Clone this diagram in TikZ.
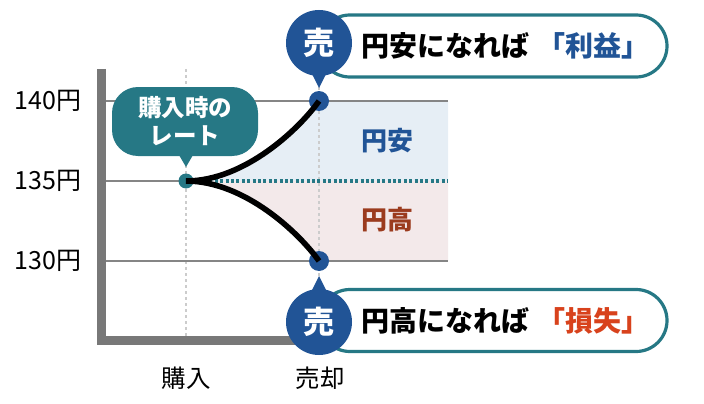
\documentclass[tikz,border=0pt]{standalone}
\usepackage{fontspec}
\setmainfont{Noto Sans CJK JP}
\definecolor{tealc}{HTML}{267885}
\definecolor{bluec}{HTML}{215496}
\definecolor{redc}{HTML}{D8421C}
\definecolor{brownc}{HTML}{9B3B1E}
\definecolor{blueshade}{HTML}{E6EEF5}
\definecolor{pinkshade}{HTML}{F3E9EA}
\definecolor{axisc}{HTML}{787878}
\definecolor{gridc}{HTML}{858585}
\definecolor{guidec}{HTML}{CCCCCC}
\begin{document}
\begin{tikzpicture}[x=1pt,y=-1pt,
  gridline/.style={gridc,line width=2.2pt},
  guide/.style={guidec,line width=1.2pt,dash pattern=on 3pt off 3pt},
  axisline/.style={axisc,line width=9pt,line join=miter},
  sellpt/.style={circle,fill=bluec,minimum size=20pt,inner sep=0pt},
  buypt/.style={circle,fill=tealc,minimum size=15pt,inner sep=0pt},
  sellmark/.style={circle,fill=bluec,minimum size=66pt,inner sep=0pt,text=white,font=\fontsize{31}{31}\selectfont\bfseries},
  callbox/.style={draw=tealc,line width=3.2pt,fill=white,rounded corners=31pt,minimum width=348pt,minimum height=62pt,inner sep=0pt},
  curve/.style={black,line width=5.6pt},
  ylab/.style={anchor=east,font=\fontsize{25}{25}\selectfont},
  xlab/.style={font=\fontsize{24.5}{25}\selectfont},
  calltext/.style={anchor=west,font=\fontsize{28}{28}\selectfont\bfseries},
  zone/.style={font=\fontsize{26}{26}\selectfont\bfseries}
]
\useasboundingbox (0,0) rectangle (704,404);

% shaded zones
\fill[blueshade] (186,181) .. controls (245,181) and (300,128) .. (319,101) -- (448,101) -- (448,181) -- cycle;
\fill[pinkshade] (186,181) .. controls (245,181) and (300,234) .. (319,261) -- (448,261) -- (448,181) -- cycle;

% guides
\draw[guide] (186,69) -- (186,336);
\draw[guide] (319,69) -- (319,336);

% grid
\draw[gridline] (106,101) -- (448,101);
\draw[gridline] (106,181) -- (200,181);
\draw[gridline] (106,261) -- (448,261);

% axes
\draw[axisline] (101.5,69) -- (101.5,340) -- (330,340);

% labels
\node[ylab] (l140) at (85,101) {140円};
\node[ylab] (l135) at (85,181) {135円};
\node[ylab] (l130) at (85,261) {130円};
\node[xlab] (xbuy) at (186,378) {購入};
\node[xlab] (xsell) at (320,378) {売却};

% zone labels
\node[zone,text=bluec] (zup) at (387,141) {円安};
\node[zone,text=brownc] (zdn) at (387,220) {円高};

% points
\node[buypt] (p) at (186,181) {};
\node[sellpt] (s1) at (319,101) {};
\node[sellpt] (s2) at (319,261) {};

% dotted line
\draw[tealc,line width=3.2pt,dash pattern=on 3pt off 2.4pt] (p.center) ++(18,0) coordinate (dstart) -- (448,181) coordinate (dend);

% curves
\draw[curve] (p.center) .. controls (245,181) and (300,128) .. (s1.center);
\draw[curve] (p.center) .. controls (245,181) and (300,234) .. (s2.center);

% purchase callout
\node[fill=tealc,rounded corners=26pt,minimum width=146pt,minimum height=69pt,inner sep=0pt,text=white,align=center,
      font=\fontsize{23.5}{28}\selectfont\bfseries] (pc) at (185,121.5) {購入時の\\レート};
\fill[tealc] (179,155) -- (193,155) -- (186,167) -- cycle;

% top callout
\node[callbox] (tb) at (493,46) {};
\fill[bluec] (309,68) -- (329,68) -- (319,88) -- cycle;
\node[sellmark] (m1) at (319,43) {売};
\node[calltext] (t1) at (358,46) {円安になれば\hspace{8pt}{\color{bluec}「利益」}};

% bottom callout
\node[callbox] (bb) at (493,320.5) {};
\fill[bluec] (309,296) -- (329,296) -- (319,276) -- cycle;
\node[sellmark] (m2) at (319,322) {売};
\node[calltext] (t2) at (358,321) {円高になれば\hspace{8pt}{\color{redc}「損失」}};
\end{tikzpicture}
\end{document}
